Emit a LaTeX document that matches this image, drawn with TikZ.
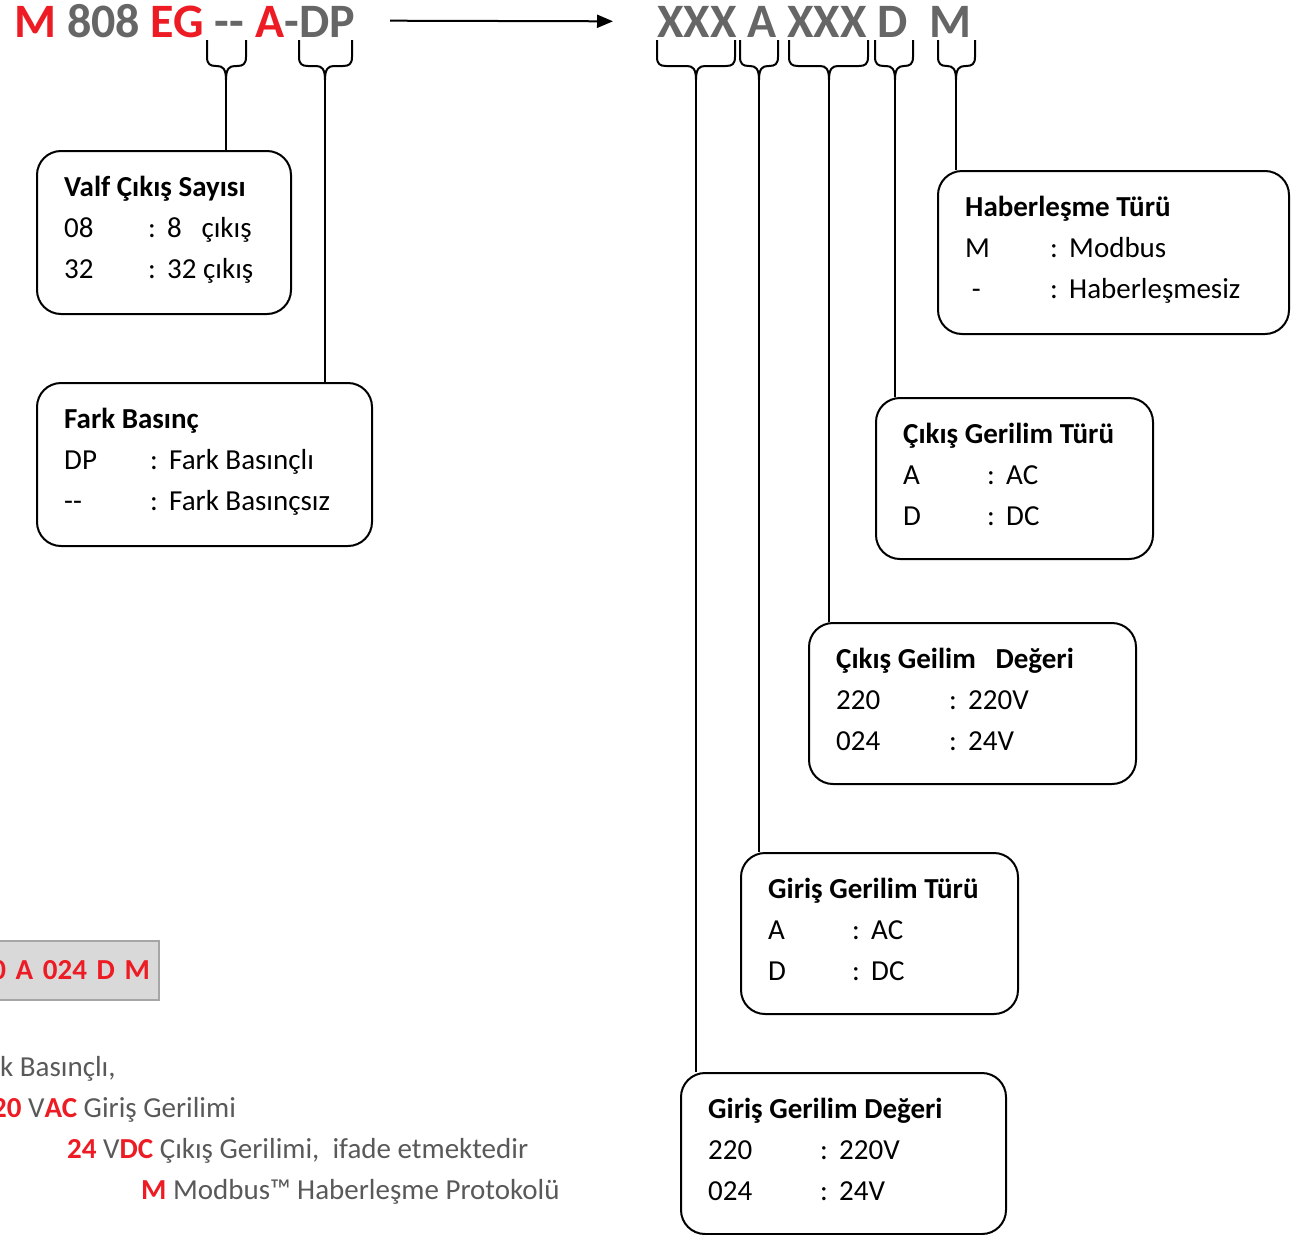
\documentclass[tikz,border=0pt]{standalone}
\usepackage{fontspec}
\setmainfont{Carlito}
\usetikzlibrary{arrows.meta}
\definecolor{codered}{HTML}{ED1C24}
\definecolor{codegray}{HTML}{666666}
\definecolor{notegray}{HTML}{595959}
\definecolor{samplefill}{HTML}{D9D9D9}
\definecolor{sampleline}{HTML}{A6A6A6}

% kod altindaki kume parantezi: isim, sol, sag, orta
\newcommand{\codebrace}[4]{%
  \draw[bracepen] (#2,40) -- (#2,57) .. controls (#2,64) and (#2+3,66) .. (#2+9,66)
    -- (#4-9,66) .. controls (#4-3,66) and (#4,69) .. (#4,80)
    .. controls (#4,69) and (#4+3,66) .. (#4+9,66)
    -- (#3-9,66) .. controls (#3-3,66) and (#3,64) .. (#3,57) -- (#3,40);
  \coordinate (#1) at (#4,80);
}
% kutu icindeki satirlar: kutu, iki nokta yeri, baslik, anahtar1, deger1, anahtar2, deger2
\newcommand{\legendlines}[7]{%
  \node[titletext] at ([shift={(28,46)}]#1.north west) {#3};
  \node[itemtext] at ([shift={(28,87)}]#1.north west) {#4};
  \node[itemtext] at ([shift={(#2,87)}]#1.north west) {:};
  \node[itemtext] at ([shift={(#2+19,87)}]#1.north west) {#5};
  \node[itemtext] at ([shift={(28,128)}]#1.north west) {#6};
  \node[itemtext] at ([shift={(#2,128)}]#1.north west) {:};
  \node[itemtext] at ([shift={(#2+19,128)}]#1.north west) {#7};
}

\begin{document}
\begin{tikzpicture}[x=1pt, y=-1pt]
    \tikzset{
        legendbox/.style={draw, line width=2pt, rounded corners=24pt, anchor=north west, inner sep=0pt},
        titletext/.style={anchor=base west, inner sep=0pt, font=\fontsize{29}{35}\selectfont\bfseries},
        itemtext/.style={anchor=base west, inner sep=0pt, font=\fontsize{29}{35}\selectfont},
        headtext/.style={anchor=base west, inner sep=0pt, text=codegray, font=\fontsize{48}{54}\selectfont\bfseries},
        notetext/.style={anchor=base west, inner sep=0pt, text=notegray, font=\fontsize{29}{35}\selectfont},
        bracepen/.style={line width=2pt, line join=round},
        linkpen/.style={line width=1.6pt}
    }
    \useasboundingbox (0,0) rectangle (1308,1234);
    \clip (0,0) rectangle (1308,1234);

    % ust satir: model kodu
    \node[headtext] (model) at (14,37) {\textcolor{codered}{M} 808 \textcolor{codered}{EG} -{}- \textcolor{codered}{A}-DP};
    \node[headtext] (code) at (657,37) {XXX A XXX D\ \ M};
    \draw[line width=2pt, -{Triangle[length=16pt, width=13pt]}, shorten <=35pt, shorten >=44pt] (model.east) -- (code.west);

    % parantezler
    \codebrace{bvalf}{207}{246}{226}
    \codebrace{bfark}{299}{352}{325}
    \codebrace{bgdeg}{657}{735}{696}
    \codebrace{bgtur}{740}{778}{759}
    \codebrace{bcdeg}{789}{868}{829}
    \codebrace{bctur}{875}{913}{895}
    \codebrace{bhab}{938}{975}{956}

    % aciklama kutulari
    \node[legendbox, minimum width=254pt, minimum height=163pt] (valf) at (36,150) {};
    \node[legendbox, minimum width=335pt, minimum height=163pt] (fark) at (36,382) {};
    \node[legendbox, minimum width=351pt, minimum height=163pt] (hab) at (937,170) {};
    \node[legendbox, minimum width=277pt, minimum height=161pt] (ctur) at (875,397) {};
    \node[legendbox, minimum width=327pt, minimum height=161pt] (cdeg) at (808,622) {};
    \node[legendbox, minimum width=277pt, minimum height=161pt] (gtur) at (740,852) {};
    \node[legendbox, minimum width=325pt, minimum height=161pt] (gdeg) at (680,1072) {};

    \legendlines{valf}{112}{Valf Çıkış Sayısı}{08}{8\ \ \ çıkış}{32}{32 çıkış}
    \legendlines{fark}{114}{Fark Basınç}{DP}{Fark Basınçlı}{-{}-}{Fark Basınçsız}
    \legendlines{hab}{113}{Haberleşme Türü}{M}{Modbus}{\ -}{Haberleşmesiz}
    \legendlines{ctur}{112}{Çıkış Gerilim Türü}{A}{AC}{D}{DC}
    \legendlines{cdeg}{141}{Çıkış Geilim\ \ \ Değeri}{220}{220V}{024}{24V}
    \legendlines{gtur}{112}{Giriş Gerilim Türü}{A}{AC}{D}{DC}
    \legendlines{gdeg}{140}{Giriş Gerilim Değeri}{220}{220V}{024}{24V}

    % baglantilar
    \draw[linkpen] (bvalf) -- (bvalf |- valf.north);
    \draw[linkpen] (bfark) -- (bfark |- fark.north);
    \draw[linkpen] (bhab) -- (bhab |- hab.north);
    \draw[linkpen] (bctur) -- (bctur |- ctur.north);
    \draw[linkpen] (bcdeg) -- (bcdeg |- cdeg.north);
    \draw[linkpen] (bgtur) -- (bgtur |- gtur.north);
    \draw[linkpen] (bgdeg) -- (bgdeg |- gdeg.north);

    % ornek kod ve aciklamasi
    \node[draw=sampleline, fill=samplefill, line width=2pt, anchor=north east, text width=180pt, align=right,
          inner xsep=9pt, inner ysep=0pt, minimum height=59pt, text=codered,
          font=\fontsize{29}{35}\selectfont\bfseries] (sample) at (160,940) {20 A 024 D M};
    \node[notetext] (note1) at (0,1076) {k Basınçlı,};
    \node[notetext] (note2) at (-8,1117) {\textbf{\textcolor{codered}{20}} V\textbf{\textcolor{codered}{AC}} Giriş Gerilimi};
    \node[notetext] (note3) at (67,1158) {\textbf{\textcolor{codered}{24}} V\textbf{\textcolor{codered}{DC}} Çıkış Gerilimi,\ \ ifade etmektedir};
    \node[notetext] (note4) at (141,1199) {\textbf{\textcolor{codered}{M}} Modbus™ Haberleşme Protokolü};
\end{tikzpicture}
\end{document}
